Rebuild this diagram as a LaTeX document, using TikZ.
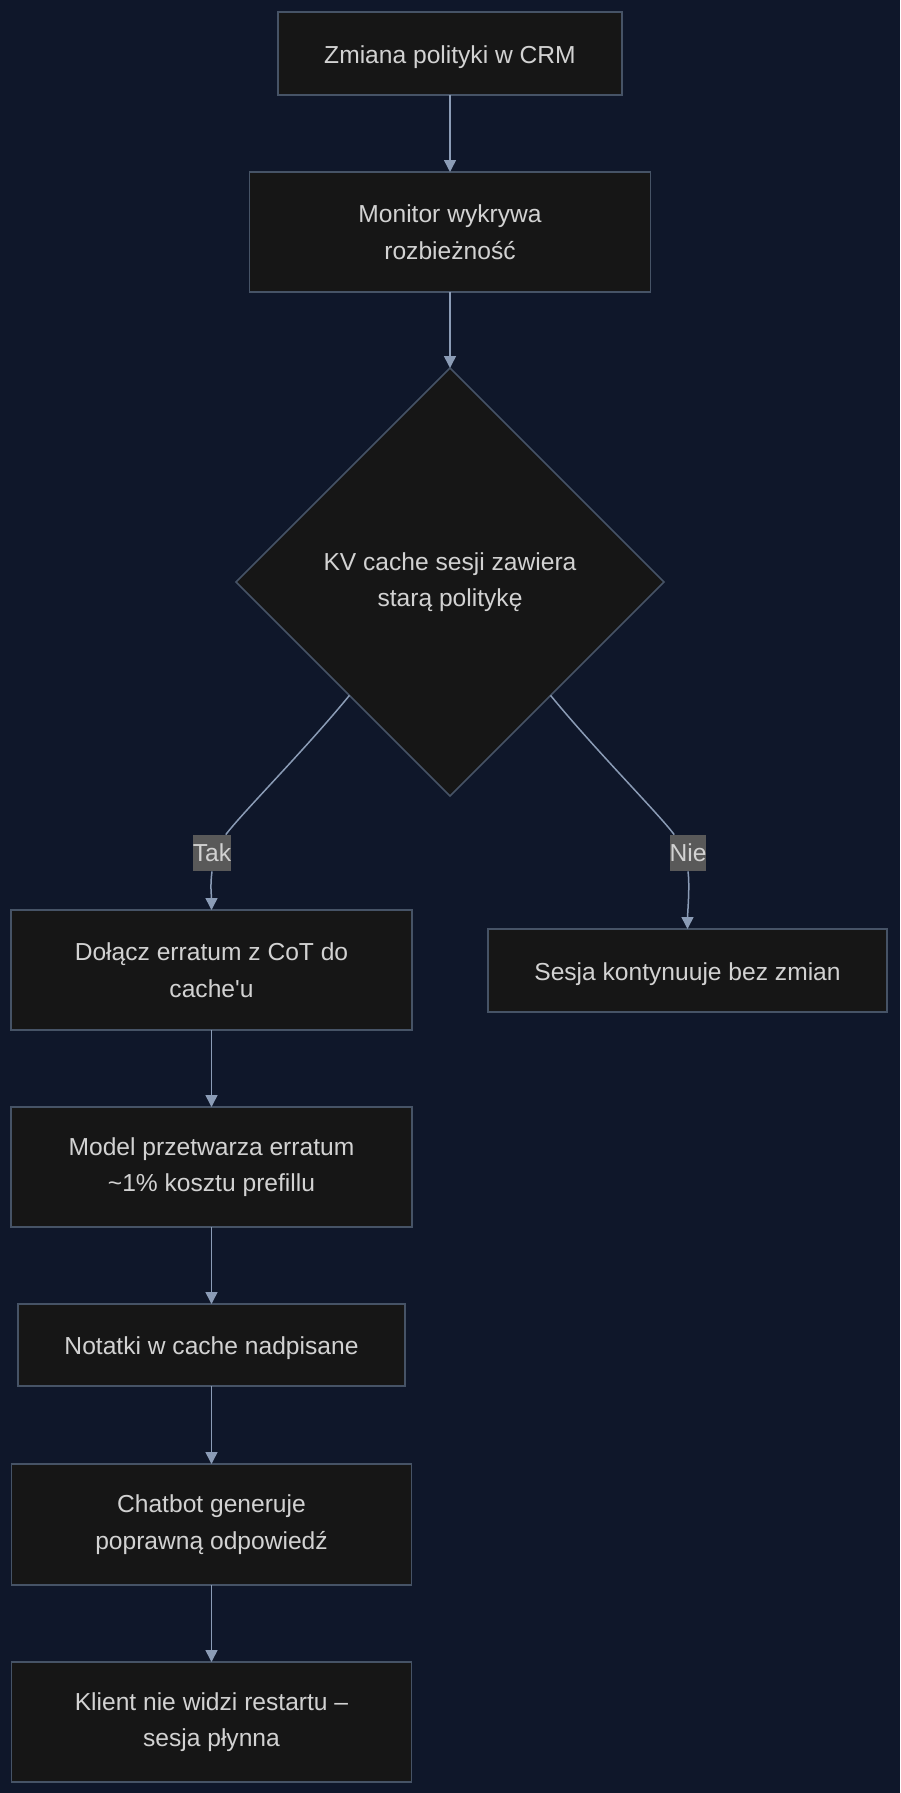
\documentclass[tikz,border=0pt]{standalone}
\usepackage{fontspec}
\setmainfont{Liberation Sans}[Ligatures=TeXOff]
\usepackage{tikz}
\usetikzlibrary{shapes.geometric,arrows.meta,positioning,calc}
\definecolor{bgnavy}{HTML}{0F172A}
\definecolor{boxfill}{HTML}{161616}
\definecolor{boxline}{HTML}{465366}
\definecolor{flowline}{HTML}{8B9CB6}
\definecolor{boxtext}{HTML}{D2D2D2}
\definecolor{tagfill}{HTML}{595959}

\begin{document}
\begin{tikzpicture}[x=0.5pt, y=-0.5pt,
  txt/.style={text=boxtext, align=center, font=\fontsize{12.3}{18.3}\selectfont},
  stepbox/.style={txt, rectangle, draw=boxline, fill=boxfill, line width=0.75pt, inner sep=0pt, outer sep=0pt},
  oneline/.style={text height=12.4pt, text depth=2.6pt},
  choice/.style={txt, diamond, aspect=1, draw=boxline, fill=boxfill, line width=0.75pt,
                 inner sep=0pt, outer sep=0pt, minimum width=214pt, minimum height=214pt},
  tag/.style={txt, fill=tagfill, inner xsep=0pt, inner ysep=0pt, minimum height=18pt},
  flow/.style={draw=flowline, line width=0.75pt, -{Triangle[width=6pt,length=6pt]}},
  bare/.style={draw=flowline, line width=0.75pt}]
  \fill[bgnavy] (0,0) rectangle (900,1793);
  \useasboundingbox (0,0) rectangle (900,1793);

  \node[stepbox, oneline, minimum width=172pt, minimum height=41.5pt] (start) at (450,53.5) {Zmiana polityki w CRM};
  \node[stepbox, minimum width=200.5pt, minimum height=60pt, below=38.5pt of start] (mon) {Monitor wykrywa\\rozbieżność};
  \node[choice, below=38pt of mon] (dec) {KV cache sesji zawiera\\starą politykę};

  \node[stepbox, minimum width=200.5pt, minimum height=60pt] (add) at (211.5,970) {Dołącz erratum z CoT do\\cache'u};
  \node[stepbox, oneline, minimum width=199.5pt, minimum height=41.5pt] (keep) at (687.5,970.5) {Sesja kontynuuje bez zmian};
  \node[stepbox, minimum width=200.5pt, minimum height=60pt, below=38.5pt of add] (model) {Model przetwarza erratum\\\textasciitilde1\% kosztu prefillu};
  \node[stepbox, oneline, minimum width=193.5pt, minimum height=41pt, below=38.5pt of model] (notes) {Notatki w cache nadpisane};
  \node[stepbox, minimum width=200pt, minimum height=60.5pt, below=39pt of notes] (gen) {Chatbot generuje\\poprawną odpowiedź};
  \node[stepbox, minimum width=200pt, minimum height=60pt, below=38.5pt of gen] (cli) {Klient nie widzi restartu –\\sesja płynna};

  \node[tag] (tak) at (212,853) {Tak};
  \node[tag] (nie) at (688,853) {Nie};
  \coordinate (decL) at ($(dec.west)!0.53!(dec.south)$);
  \coordinate (decR) at ($(dec.east)!0.53!(dec.south)$);

  \draw[flow] (start) -- (mon);
  \draw[flow] (mon) -- (dec);
  \draw[bare] (decL) .. controls +(-45,55) and +(30,-40) .. (tak);
  \draw[flow] (tak.south) .. controls +(-2,15) and +(0,-15) .. (add.north);
  \draw[bare] (decR) .. controls +(45,55) and +(-30,-40) .. (nie);
  \draw[flow] (nie.south) .. controls +(2,15) and +(0,-15) .. (keep.north);
  \draw[flow] (add) -- (model);
  \draw[flow] (model) -- (notes);
  \draw[flow] (notes) -- (gen);
  \draw[flow] (gen) -- (cli);
\end{tikzpicture}
\end{document}
